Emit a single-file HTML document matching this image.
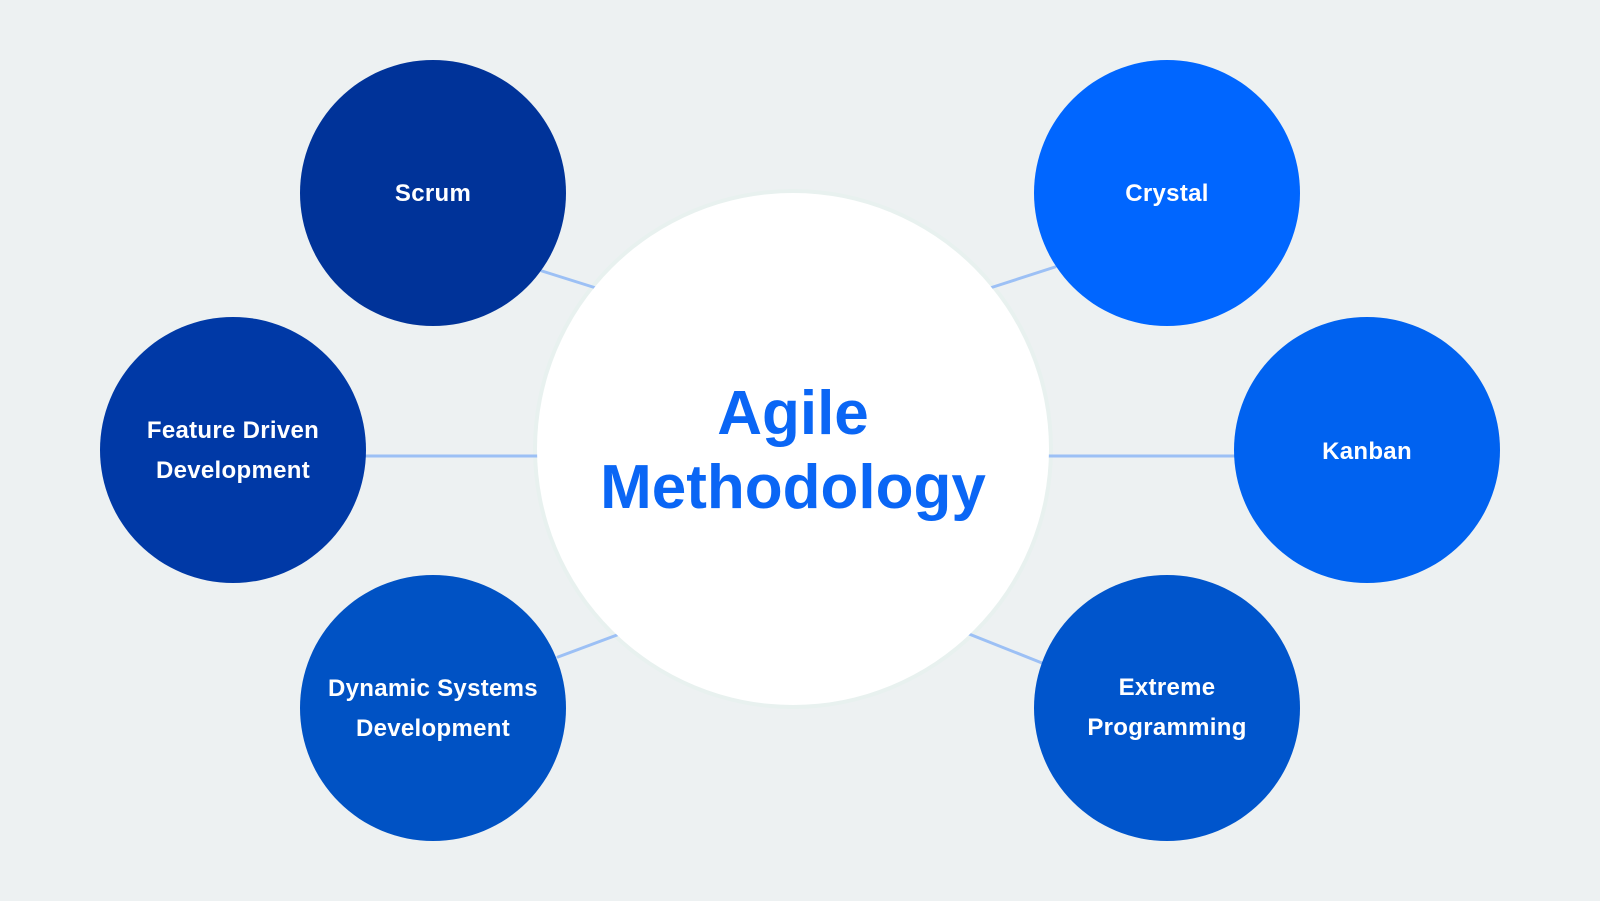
<!DOCTYPE html>
<html><head><meta charset="utf-8"><style>
html,body{margin:0;padding:0;background:#edf1f2;}
svg{display:block}
text{font-family:"Liberation Sans",sans-serif;font-weight:bold;text-anchor:middle}
</style></head><body>
<svg width="1600" height="901" viewBox="0 0 1600 901">
<rect width="1600" height="901" fill="#edf1f2"/>
<circle cx="793" cy="449" r="260" fill="#e8f1ef"/>
<g stroke="#9cc0f5" stroke-width="3" stroke-linecap="round">
<line x1="542" y1="271" x2="596" y2="288"/>
<line x1="990" y1="288" x2="1055" y2="267"/>
<line x1="358" y1="456" x2="540" y2="456"/>
<line x1="1046" y1="456" x2="1242" y2="456"/>
<line x1="558" y1="657" x2="617" y2="635"/>
<line x1="969" y1="634" x2="1042" y2="663"/>
</g>
<circle cx="793" cy="449" r="256" fill="#ffffff"/>
<circle cx="433" cy="193" r="133" fill="#003399"/>
<circle cx="1167" cy="193" r="133" fill="#0066ff"/>
<circle cx="233" cy="450" r="133" fill="#0039a6"/>
<circle cx="1367" cy="450" r="133" fill="#0062f0"/>
<circle cx="433" cy="708" r="133" fill="#0052c4"/>
<circle cx="1167" cy="708" r="133" fill="#0055cc"/>
<g fill="#fff" font-size="24" letter-spacing="0.3">
<text x="433" y="201">Scrum</text>
<text x="1167" y="201">Crystal</text>
<text x="233" y="438">Feature Driven</text>
<text x="233" y="478">Development</text>
<text x="1367" y="459">Kanban</text>
<text x="433" y="696">Dynamic Systems</text>
<text x="433" y="736">Development</text>
<text x="1167" y="695">Extreme</text>
<text x="1167" y="735">Programming</text>
</g>
<g fill="#0a66f5" font-size="62">
<text x="793" y="434">Agile</text>
<text x="793" y="508">Methodology</text>
</g>
</svg>
</body></html>
